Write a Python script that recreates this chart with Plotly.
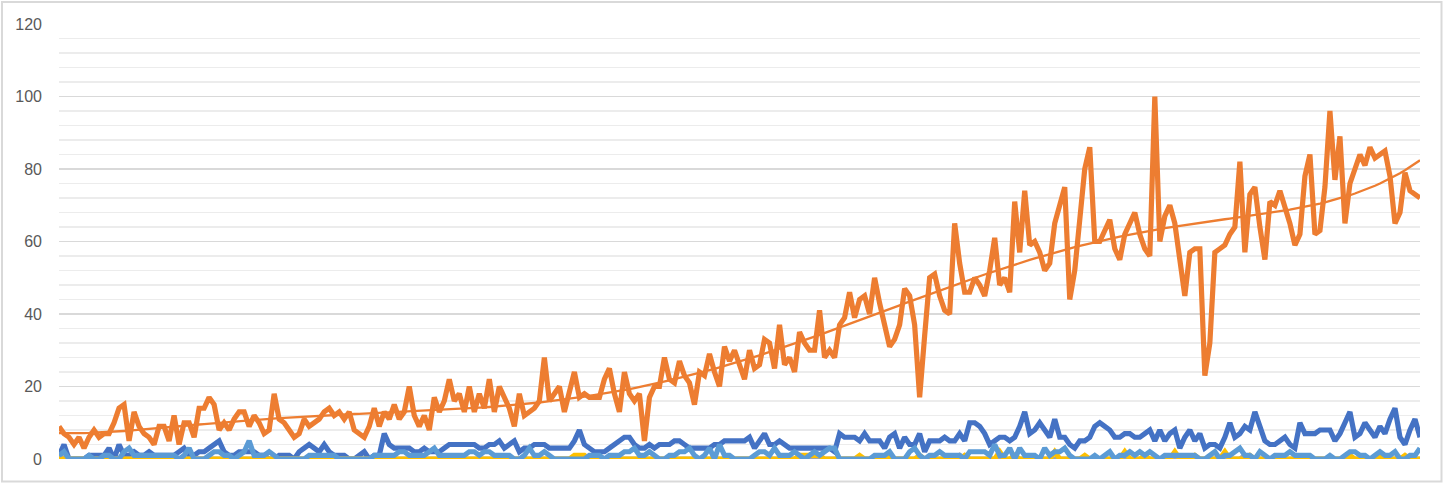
import numpy as np
import plotly.graph_objects as go

# ---------------- data ----------------
series_blue = [1,4,0,0,0,0,1,1,1,1,
 3,0,4,1,1,2,1,1,2,1,
 1,1,1,1,2,3,1,1,2,2,3,
 4,5,2,1,1,2,2,2,2,1,
 1,0,0,1,1,1,0,2,3,4,
 3,2,4,2,1,1,1,0,0,1,
 2,0,1,1,7,4,3,3,3,3,2,
 2,3,2,2,2,3,4,4,4,4,
 4,4,3,3,4,4,5,3,4,5,
 2,3,3,4,4,4,3,3,3,3,
 3,5,8,4,3,2,2,2,3,4,
 5,6,6,4,3,3,4,3,4,4,4,
 5,5,4,3,3,3,3,3,4,4,
 5,5,5,5,5,6,3,5,7,4,
 4,5,4,3,3,3,3,3,3,3,
 3,3,2,7,6,6,6,5,7,5,5,
 5,3,6,7,3,6,4,4,7,2,
 5,5,5,6,5,5,7,5,10,10,
 9,7,4,5,6,6,5,6,9,13,
 7,8,10,8,6,11,6,6,4,3,
 5,5,6,9,10,9,8,6,6,7,7,
 6,6,7,8,5,8,5,7,8,3,
 6,8,5,7,3,4,4,3,6,10,
 6,7,9,8,13,9,5,4,4,5,
 6,4,3,10,7,7,7,8,8,8,5,
 7,10,13,6,7,10,8,6,9,7,
 11,14,6,4,8,11,6]

series_orange = [9, 7, 6, 4, 6, 3, 6, 8, 6, 7, 7, 10, 14, 15, 5, 13, 9, 7, 6, 4, 9, 9, 5, 12, 4,
 10, 10, 6, 14, 14, 17, 15, 8, 10, 8, 11, 13, 13, 9, 12, 10, 7, 8, 18, 11, 10, 8, 6,
 7, 11, 9, 10, 11, 13, 14, 12, 13, 11, 13, 8, 7, 6, 9, 14, 9, 13, 11, 15, 11, 13, 20, 12, 9,
 12, 8, 17, 13, 16, 22, 16, 18, 13, 20, 13, 18, 14, 22, 13, 20, 17, 14, 9, 18, 12, 13, 14, 16, 28,
 16, 18, 20, 13, 18, 24, 17, 18, 17, 17, 17, 22, 25, 18, 13, 24, 18, 16, 18, 5, 17, 20, 20, 28, 22,
 21, 27, 23, 21, 15, 24, 23, 29, 24, 20, 31, 27, 30, 26, 22, 30, 25, 26, 33, 32, 25, 37, 26, 28,
 24, 35, 32, 30, 30, 41, 28, 30, 28, 37, 39, 46, 39, 44, 45, 40, 50, 43, 37, 31, 33, 37, 47, 45, 37,
 17, 34, 50, 51, 45, 41, 40, 65, 54, 46, 46, 50, 48, 45, 52, 61, 48, 50, 46, 71, 57, 74, 59,
 60, 57, 52, 54, 65, 70, 75, 44, 52, 66, 80, 86, 60, 60, 63, 66, 58, 55, 62, 65, 68, 62, 58, 56, 100,
 60, 67, 70, 65, 55, 45, 57, 58, 58, 23, 32, 57, 58, 59, 62, 64, 82, 57, 73, 75, 64, 55, 71, 70,
 74, 70, 65, 59, 62, 78, 84, 62, 63, 75, 96, 77, 89, 65, 76, 80, 84, 81, 86, 83, 84, 85, 78, 65, 68,
 79, 74, 73, 72]

series_grey = [1,0,0,0,0,0,0,0,0,0, 0,0,0,0,0,0,0,0,0,0, 0,0,0,0,0,0,0,0,0,0,
 0,0,0,0,0,0,0,0,0,0, 0,0,0,0,0,0,0,0,0,0, 0,0,0,0,0,0,0,0,0,0,
 0,0,0,0,0,0,0,0,0,0, 0,0,0,0,0,0,0,0,0,0, 0,0,0,0,0,0,0,0,0,0,
 0,0,0,0,0,0,0,0,0,0, 0,0,0,0,0,0,0,0,0,0, 0,0,0,0,0,0,0,0,0,0,
 0,0,0,0,0,0,0,0,0,0, 0,0,0,0,0,0,0,0,0,0, 0,0,0,0,0,0,0,0,0,0,
 1,0,0,0,0,0,0,0,0,0, 0,0,0,0,0,0,0,0,0,0, 0,0,0,0,0,0,0,0,0,0,
 1,0,0,0,0,0,0,0,0,0, 0,0,0,0,0,0,0,0,0,0, 0,0,0,0,0,0,0,0,0,0,
 0,0,0,0,0,0,0,0,0,0, 0,0,0,0,0,0,0,0,0,0, 0,0,0,0,0,0,0,1,0,0,
 0,0,0,0,0,0,0,0,0,0, 0,0,0,0,0,0,0,0,0,0, 0,0,0,0,0,0,0,0,0,0,
 0,0,0]

series_yellow = [0,0,0,0,0,0,0,0,0,0, 0,0,0,0,0,0,0,0,0,0, 0,0,0,0,0,0,0,0,0,0,
 0,0,0,0,0,0,0,0,0,0, 0,0,0,0,0,0,0,0,0,0, 0,0,0,0,0,0,0,0,0,0,
 0,0,0,0,0,0,0,0,0,0, 0,0,0,0,0,0,0,0,0,0, 0,0,0,0,0,0,0,0,0,0,
 0,0,0,0,0,0,0,0,0,0, 0,0,0,1,1,1,0,0,0,0, 0,0,0,0,0,0,0,0,0,0,
 0,0,0,0,0,0,0,0,0,0, 0,0,0,0,0,0,0,0,0,0, 0,0,0,0,0,0,0,0,1,1,
 1,1,1,0,0,0,0,0,0,0, 1,0,0,0,0,0,1,0,0,0, 0,0,1,0,0,0,0,0,0,0,
 0,1,0,0,0,0,0,0,2,0, 0,1,0,0,0,0,0,0,0,2, 0,0,0,0,0,1,0,0,0,0,
 0,0,0,2,0,0,0,1,0,0, 0,0,0,2,0,0,0,1,0,0, 0,0,0,2,0,0,0,0,1,0,
 0,0,0,0,0,0,0,0,0,0, 0,0,0,0,0,0,0,0,1,0, 0,0,0,0,1,0,0,0,0,1,
 0,0,0]

series_lightblue = [1,2,0,0,0,0,1,0,0,1,
 1,0,0,2,3,1,1,1,1,1,
 1,1,1,1,0,1,3,0,0,0,1,
 2,2,1,1,0,1,2,5,1,1,
 1,2,1,0,0,0,0,0,0,1,
 1,1,1,1,1,0,0,0,0,0,
 0,0,1,1,1,1,1,2,2,1,1,
 1,1,2,3,1,1,1,1,1,1,
 2,2,1,2,2,1,1,1,1,0,
 0,1,3,1,1,2,1,0,0,0,
 0,0,0,0,1,1,1,0,1,1,
 1,2,2,3,1,1,2,1,0,0,1,
 1,2,2,3,1,0,1,3,0,4,
 1,1,0,0,0,0,1,2,2,1,
 3,1,1,1,2,1,0,1,2,1,
 2,3,3,0,0,0,0,0,0,0,1,
 1,1,2,0,0,0,2,3,1,0,
 1,1,2,1,1,1,1,0,2,2,
 2,2,1,4,1,1,3,0,3,1,
 1,1,0,3,1,2,2,3,1,0,
 0,0,0,1,0,1,2,0,1,1,2,
 1,2,1,2,1,0,1,1,1,1,
 1,1,1,0,0,1,2,0,1,1,
 2,3,1,1,0,2,1,0,1,1,
 1,2,1,1,1,1,0,0,0,1,0,
 0,1,2,2,1,1,0,1,2,1,
 1,2,0,0,1,1,3]

y_tick_values = [0, 20, 40, 60, 80, 100, 120]
y_tick_labels = ["0", "20", "40", "60", "80", "100", "120"]

# ---------------- figure ----------------
n = len(series_orange)
x = np.arange(n)

# polynomial trendline of the orange series (Excel style)
trend_poly = np.polynomial.Polynomial.fit(x, np.array(series_orange, dtype=float), 6)
trend = trend_poly(x)

W, H = 1444, 484
ML, MR, MT, MB = 59, 24, 24, 25
pw, ph = W - ML - MR, H - MT - MB

fig = go.Figure()
LW = 5.2
fig.add_trace(go.Scatter(x=x, y=series_blue, mode="lines", line=dict(color="#4472C4", width=LW)))
fig.add_trace(go.Scatter(x=x, y=series_orange, mode="lines", line=dict(color="#ED7D31", width=LW)))
fig.add_trace(go.Scatter(x=x, y=series_grey, mode="lines", line=dict(color="#A5A5A5", width=LW)))
fig.add_trace(go.Scatter(x=x, y=series_yellow, mode="lines", line=dict(color="#FFC000", width=LW)))
fig.add_trace(go.Scatter(x=x, y=series_lightblue, mode="lines", line=dict(color="#5B9BD5", width=LW)))
fig.add_trace(go.Scatter(x=x, y=trend, mode="lines", line=dict(color="#ED7D31", width=2.3)))

fig.update_layout(
    width=W, height=H,
    margin=dict(l=ML, r=MR, t=MT, b=MB, pad=0),
    paper_bgcolor="white", plot_bgcolor="white",
    showlegend=False,
    xaxis=dict(range=[0, n - 1], showgrid=False, zeroline=False, showticklabels=False,
               ticks="", showline=False, fixedrange=True),
    yaxis=dict(range=[0, 120], tickvals=y_tick_values, ticktext=y_tick_labels,
               showgrid=True, gridcolor="#d9d9d9", gridwidth=1.3, zeroline=False,
               ticks="", ticklabelstandoff=16,
               tickfont=dict(family="Liberation Sans, Arial, sans-serif", size=16, color="#595959"),
               minor=dict(dtick=4, tick0=0, showgrid=True, gridcolor="#ececec", gridwidth=1.2),
               fixedrange=True),
)

# chart-area border
fig.add_shape(type="rect", xref="paper", yref="paper",
              x0=(2 - ML) / pw, x1=(1441.5 - ML) / pw,
              y0=(MT + ph - 481.5) / ph, y1=(MT + ph - 2) / ph,
              line=dict(color="#d9d9d9", width=2), layer="below")

fig.write_html("out.html",
               config={"displayModeBar": False, "staticPlot": True},
               post_script="document.body.style.margin='0';document.body.style.overflow='hidden';")
